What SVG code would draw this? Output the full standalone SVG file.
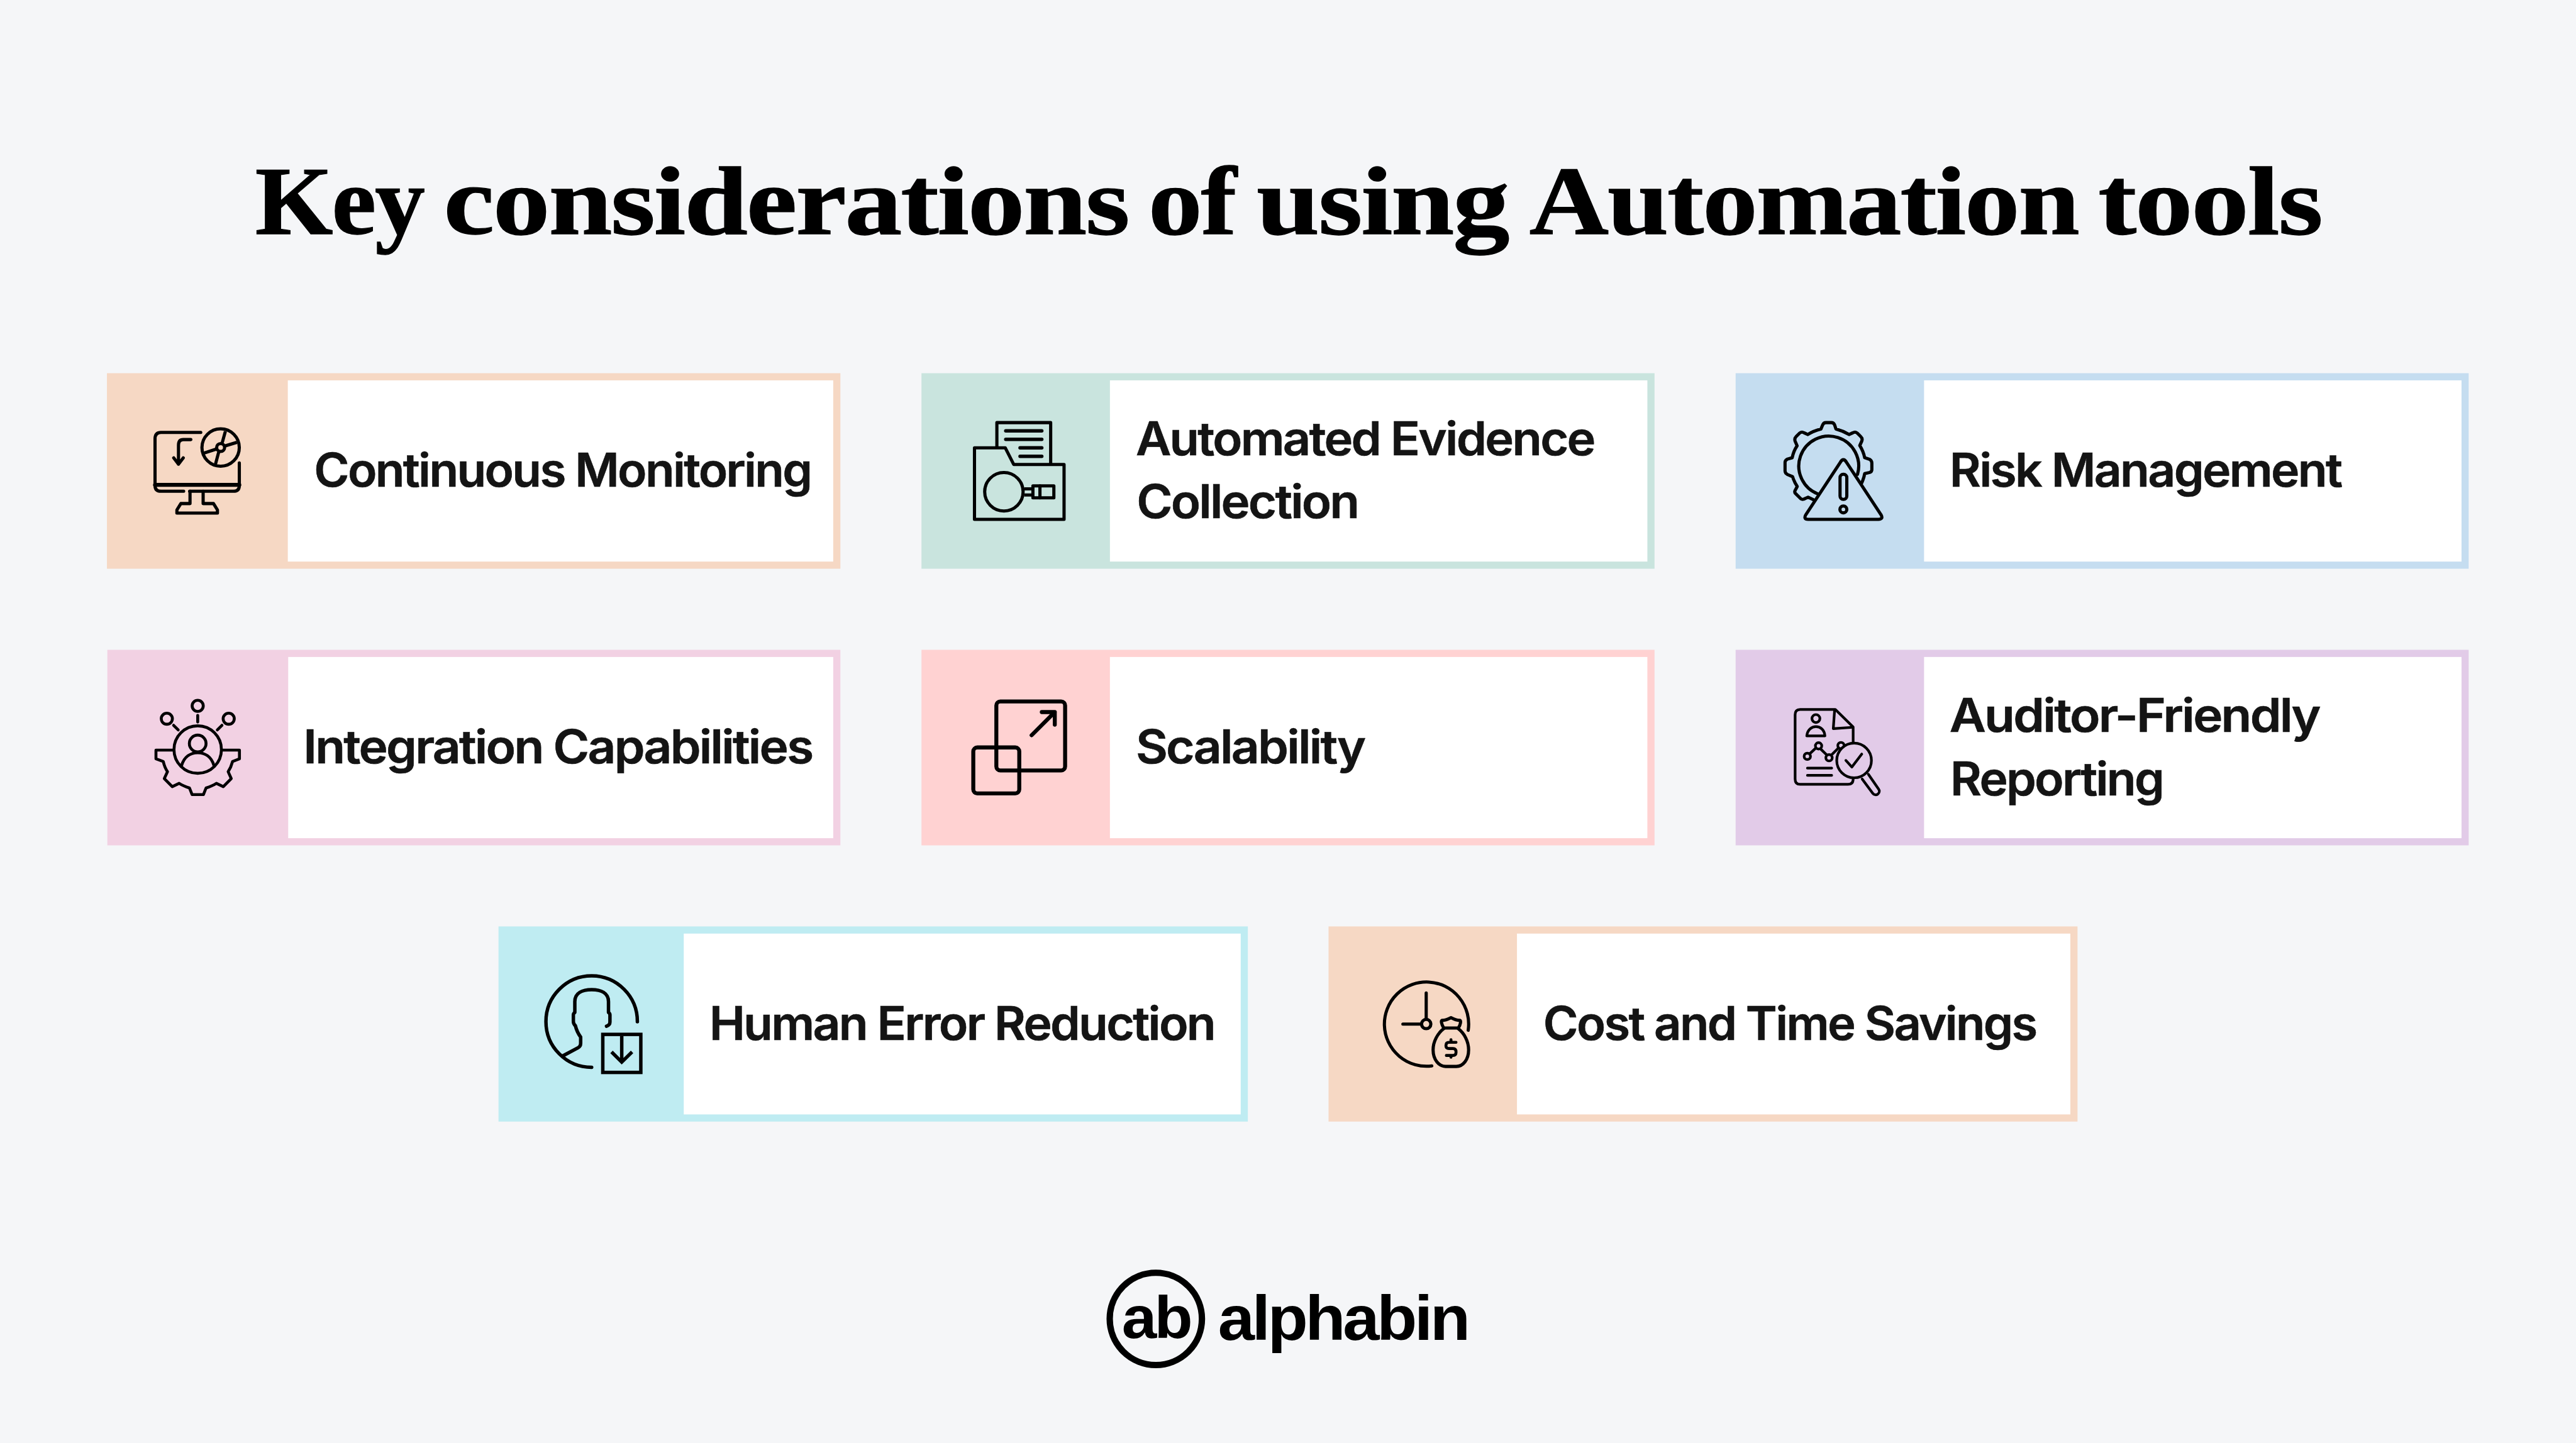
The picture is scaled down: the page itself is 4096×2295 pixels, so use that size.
<svg xmlns="http://www.w3.org/2000/svg" width="4096" height="2295" viewBox="0 0 4096 2295">
<style>
.lb{font-family:"Inter","Liberation Sans",sans-serif;font-weight:600;font-size:117px;fill:#141414;letter-spacing:-.035em;stroke:#141414;stroke-width:1}
.ti{font-family:"Liberation Serif",serif;font-weight:700;font-size:244px;fill:#000;stroke:#000;stroke-width:2;letter-spacing:-.012em}
.w{fill:#fff}
.ic{fill:none;stroke:#000;stroke-linecap:round;stroke-linejoin:round}
.lg{font-family:"Liberation Sans",sans-serif;font-weight:700;fill:#000;letter-spacing:-.04em}
</style>
<rect width="4096" height="2295" fill="#F5F6F8"/>
<g transform="scale(.63210)">
<text id="title" class="ti" y="588" lengthAdjust="spacingAndGlyphs"><tspan x="642" textLength="424" lengthAdjust="spacingAndGlyphs">Key</tspan> <tspan x="1116" textLength="1723" lengthAdjust="spacingAndGlyphs">considerations</tspan> <tspan x="2889" textLength="219" lengthAdjust="spacingAndGlyphs">of</tspan> <tspan x="3161" textLength="633" lengthAdjust="spacingAndGlyphs">using</tspan> <tspan x="3847" textLength="1381" lengthAdjust="spacingAndGlyphs">Automation</tspan> <tspan x="5278" textLength="562" lengthAdjust="spacingAndGlyphs">tools</tspan></text>

<g id="card-continuous-monitoring">
<rect x="269" y="939" width="1845" height="492" fill="#F6D8C4"/><rect class="w" x="724" y="957" width="1372" height="456"/>
<g class="ic" stroke-width="8">
<path d="M505 1088H405Q390 1088 390 1104V1220M390 1220V1222Q390 1236 405 1236H462M477 1236H587Q602 1236 602 1222V1165M390 1220H602" />
<path d="M390 1220H602" stroke-width="10"/>
<path d="M478 1236V1267H455L445 1283V1291H547V1283L537 1267H511V1236"/>
<path d="M480 1106H461Q449 1106 449 1120V1168M437 1152L449 1168L461 1152"/>
<circle cx="555" cy="1126" r="47"/><circle cx="555" cy="1126" r="10"/>
<path d="M567 1085L559 1114M596 1113L566 1122M513 1140L544 1130M542 1168L550 1138" stroke-linecap="butt"/>
</g>
<text class="lb" x="790" y="1225" textLength="1250" lengthAdjust="spacingAndGlyphs">Continuous Monitoring</text>
</g>

<g id="card-automated-evidence">
<rect x="2318" y="939" width="1844" height="492" fill="#C9E4DE"/><rect class="w" x="2792" y="957" width="1352" height="456"/>
<g class="ic" transform="translate(2300 920) scale(.33333)" style="stroke-width:24">
<path d="M454 620H686L750 746H1130V1160H454Z"/>
<path d="M623 610V430H1029V740"/>
<path d="M690 492H962M690 556H962M798 620H962M798 684H962" stroke-width="26"/>
<circle cx="676" cy="952" r="145"/>
<path d="M830 930H895M830 976H895" stroke-linecap="butt"/>
<rect x="895" y="908" width="158" height="90"/><path d="M948 908V998"/>
</g>
<text class="lb" x="2857" y="1146" textLength="1153" lengthAdjust="spacingAndGlyphs">Automated Evidence</text>
<text class="lb" x="2859" y="1304" textLength="557" lengthAdjust="spacingAndGlyphs">Collection</text>
</g>

<g id="card-risk-management">
<rect x="4366" y="939" width="1844" height="492" fill="#C5DDF0"/><rect class="w" x="4840" y="957" width="1352" height="456"/>
<g class="ic" transform="translate(4350 920) scale(.33333)" style="stroke-width:24">
<path d="M668 968A226 226 0 1 1 968 820"/>
<path d="M635 1012L595 993L562 1008Q550 1012 540 1005L500 965Q490 955 497 942L513 912C497 888 485 862 478 838L440 822Q421 812 421 795V730Q421 715 440 705L475 695C482 660 495 630 512 605L497 570Q490 550 505 535L530 510Q545 495 565 507L592 520C620 502 655 488 692 478L705 447Q712 430 730 430H770Q788 430 795 447L805 478C842 488 875 502 905 520L932 507Q952 495 967 510L992 535Q1008 550 1000 570L985 603C1002 630 1015 660 1022 695L1060 708Q1076 718 1076 735V785Q1076 800 1060 806L1022 815C1018 840 1010 862 1000 885"/>
<path d="M838 730Q861 690 885 730L1145 1125Q1165 1160 1125 1160H595Q558 1160 578 1125Z"/>
<rect x="836" y="820" width="51" height="190" rx="25"/>
<circle cx="861" cy="1085" r="26"/>
</g>
<text class="lb" x="4904" y="1225" textLength="985" lengthAdjust="spacingAndGlyphs">Risk Management</text>
</g>

<g id="card-integration-capabilities">
<rect x="270" y="1635" width="1844" height="492" fill="#F2D1E3"/><rect class="w" x="725" y="1653" width="1371" height="456"/>
<g class="ic" transform="translate(260 1620) scale(.33333)" style="stroke-width:22">
<circle cx="712" cy="468" r="42"/><circle cx="479" cy="565" r="42"/><circle cx="946" cy="565" r="42"/>
<path d="M712 540V590M530 615L565 650M895 615L860 650"/>
<circle cx="712" cy="798" r="179"/>
<circle cx="712" cy="752" r="63"/>
<path d="M590 920C610 850 660 822 712 822C765 822 815 850 835 920"/>
<path d="M525 802H397V868L452 888C458 915 470 945 484 965L460 1017L520 1078L572 1053C595 1068 625 1080 650 1088L670 1138H755L775 1088C800 1080 830 1068 853 1053L905 1078L965 1017L942 965C955 945 968 915 975 888L1027 868V802H900"/>
</g>
<text class="lb" x="763" y="1921" textLength="1280" lengthAdjust="spacingAndGlyphs">Integration Capabilities</text>
</g>

<g id="card-scalability">
<rect x="2318" y="1635" width="1844" height="492" fill="#FFD2D2"/><rect class="w" x="2792" y="1653" width="1352" height="456"/>
<g class="ic" transform="translate(2300 1620) scale(.33333)" style="stroke-width:30">
<rect x="619" y="435" width="519" height="521" rx="30"/>
<rect x="445" y="782" width="347" height="347" rx="30"/>
<path d="M885 690L1060 515M962 515H1060V610"/>
</g>
<text class="lb" x="2857" y="1921" textLength="575" lengthAdjust="spacingAndGlyphs">Scalability</text>
</g>

<g id="card-auditor-friendly">
<rect x="4366" y="1635" width="1844" height="492" fill="#E2CBE8"/><rect class="w" x="4840" y="1653" width="1352" height="456"/>
<g class="ic" transform="translate(4350 1620) scale(.33333)" style="stroke-width:20">
<path d="M935 745V628L800 495H535Q497 495 497 535V1020Q497 1060 535 1060H895Q935 1060 935 1020"/>
<path d="M795 500L785 640L930 630"/>
<circle cx="654" cy="564" r="30"/>
<path d="M585 695C590 645 625 625 654 625C685 625 718 645 722 695Z"/>
<circle cx="589" cy="849" r="24"/><circle cx="674" cy="770" r="24"/><circle cx="753" cy="860" r="24"/><circle cx="843" cy="768" r="24"/>
<path d="M607 830L655 785M688 792L735 838M770 840L825 785M590 938H773M590 993H773"/>
<circle cx="942" cy="880" r="131" fill="#E2CBE8"/>
<path d="M880 880L925 930L1000 832"/>
<path d="M1003 1020L1083 1128A27 27 0 0 0 1127 1096L1050 985"/>
</g>
<text class="lb" x="4904" y="1842" textLength="930" lengthAdjust="spacingAndGlyphs">Auditor-Friendly</text>
<text class="lb" x="4906" y="2001" textLength="535" lengthAdjust="spacingAndGlyphs">Reporting</text>
</g>

<g id="card-human-error">
<rect x="1254" y="2331" width="1885" height="491" fill="#BFECF2"/><rect class="w" x="1720" y="2349" width="1401" height="455"/>
<g class="ic" transform="translate(1240 2320) scale(.33333)" style="stroke-width:26">
<path d="M1090 752A345 345 0 1 0 745 1096"/>
<path d="M857 786Q883 778 883 755V700Q883 690 872 682V600C872 535 815 510 745 510C675 510 618 535 618 600V682Q607 690 607 700V750Q607 770 622 782C630 815 645 845 662 868V915Q662 940 640 950L528 1010"/>
<rect x="829" y="848" width="287" height="287" stroke-linejoin="miter"/>
<path d="M972 860V1060M895 980L972 1057L1050 980" stroke-linecap="butt" stroke-linejoin="miter"/>
</g>
<text class="lb" x="1784" y="2617" textLength="1271" lengthAdjust="spacingAndGlyphs">Human Error Reduction</text>
</g>

<g id="card-cost-time">
<rect x="3342" y="2331" width="1884" height="491" fill="#F6D8C4"/><rect class="w" x="3816" y="2349" width="1392" height="455"/>
<g class="ic" transform="translate(3330 2320) scale(.33333)" style="stroke-width:24">
<path d="M1090 817A318 318 0 1 0 815 1086"/>
<path d="M773 535V730M597 770H735"/>
<circle cx="773" cy="770" r="35"/>
<path d="M905 800C885 765 885 745 892 742C915 745 935 735 960 722C985 735 1005 745 1028 742C1035 745 1035 770 1015 800Z"/>
<path d="M905 805C860 840 825 900 825 965C825 1040 870 1090 920 1090H1000C1050 1090 1093 1040 1093 965C1093 900 1060 840 1015 805"/>
<path d="M998 908H945Q922 908 922 930V935Q922 955 945 955H975Q998 955 998 980V985Q998 1007 975 1007H925M960 888V908M960 1007V1020" style="stroke-width:22"/>
</g>
<text class="lb" x="3882" y="2617" textLength="1240" lengthAdjust="spacingAndGlyphs">Cost and Time Savings</text>
</g>

<g id="logo">
<circle cx="2907.5" cy="3318.5" r="116" fill="none" stroke="#000" stroke-width="16"/>
<text class="lg" x="2822" y="3366" font-size="151" textLength="172" lengthAdjust="spacingAndGlyphs">ab</text>
<text class="lg" x="3064" y="3372" font-size="158" textLength="628" lengthAdjust="spacingAndGlyphs">alphabin</text>
</g>
</g>
</svg>
